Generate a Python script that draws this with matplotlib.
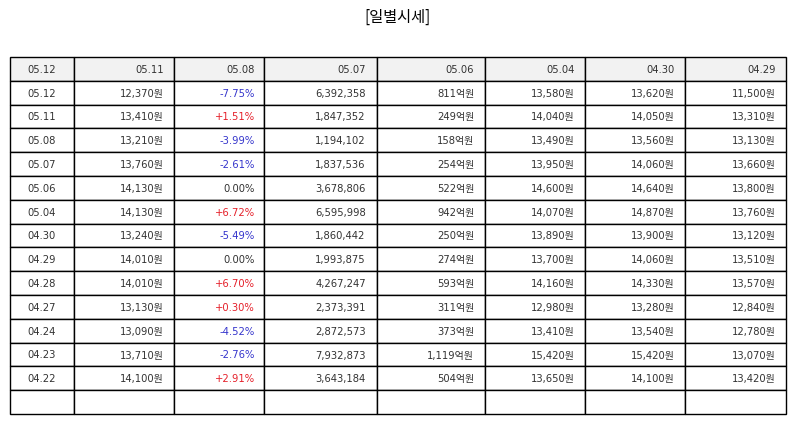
import matplotlib.pyplot as plt

plt.rcParams['font.family'] = ['DejaVu Sans', 'Noto Sans CJK KR']

# header row as shown in the reference
header = ['05.12', '05.11', '05.08', '05.07', '05.06', '05.04', '04.30', '04.29']

dates = ['05.12', '05.11', '05.08', '05.07', '05.06', '05.04', '04.30',
         '04.29', '04.28', '04.27', '04.24', '04.23', '04.22']
close = [12370, 13410, 13210, 13760, 14130, 14130, 13240,
         14010, 14010, 13130, 13090, 13710, 14100]
change = [-7.75, 1.51, -3.99, -2.61, 0.00, 6.72, -5.49,
          0.00, 6.70, 0.30, -4.52, -2.76, 2.91]
volume = [6392358, 1847352, 1194102, 1837536, 3678806, 6595998, 1860442,
          1993875, 4267247, 2373391, 2872573, 7932873, 3643184]
amount = [811, 249, 158, 254, 522, 942, 250,
          274, 593, 311, 373, 1119, 504]
open_ = [13580, 14040, 13490, 13950, 14600, 14070, 13890,
         13700, 14160, 12980, 13410, 15420, 13650]
high = [13620, 14050, 13560, 14060, 14640, 14870, 13900,
        14060, 14330, 13280, 13540, 15420, 14100]
low = [11500, 13310, 13130, 13660, 13800, 13760, 13120,
       13510, 13570, 12840, 12780, 13070, 13420]

col_px = [64, 100, 90, 113, 108, 100, 100, 101]

W, H = 794, 425
fig = plt.figure(figsize=(W / 100, H / 100), dpi=100)
ax = fig.add_axes([0, 0, 1, 1])
ax.axis('off')

fig.text(0.5, 1 - 17 / H, '[일별시세]', ha='center', va='center',
         fontsize=11, family=['Noto Sans CJK KR', 'DejaVu Sans'])


def pct(v):
    if v > 0:
        return '+%.2f%%' % v
    return '%.2f%%' % v


rows = []
for i in range(len(dates)):
    rows.append([dates[i], '{:,}원'.format(close[i]), pct(change[i]),
                 '{:,}'.format(volume[i]), '{:,}억원'.format(amount[i]),
                 '{:,}원'.format(open_[i]), '{:,}원'.format(high[i]),
                 '{:,}원'.format(low[i])])
rows.append([''] * 8)

total = sum(col_px)
x0, x1 = 10, 786
y_top, y_bot = 57, 414
tbl = ax.table(cellText=rows, colLabels=header,
               colWidths=[c / total for c in col_px],
               bbox=[x0 / W, 1 - y_bot / H, (x1 - x0) / W, (y_bot - y_top) / H])
tbl.auto_set_font_size(False)
tbl.set_fontsize(7.2)

for (r, c), cell in tbl.get_celld().items():
    cell.set_edgecolor('black')
    cell.set_linewidth(1.0)
    txt = cell.get_text()
    txt.set_color('#333333')
    txt.set_va('center_baseline')
    if c == 0:
        txt.set_ha('center')
    else:
        txt.set_ha('right')
    if r == 0:
        cell.set_facecolor('#f2f2f2')
    elif c == 2 and r - 1 < len(change):
        v = change[r - 1]
        if v > 0:
            txt.set_color('#e5202a')
        elif v < 0:
            txt.set_color('#3535cc')

fig.savefig('out.png', dpi=100)
